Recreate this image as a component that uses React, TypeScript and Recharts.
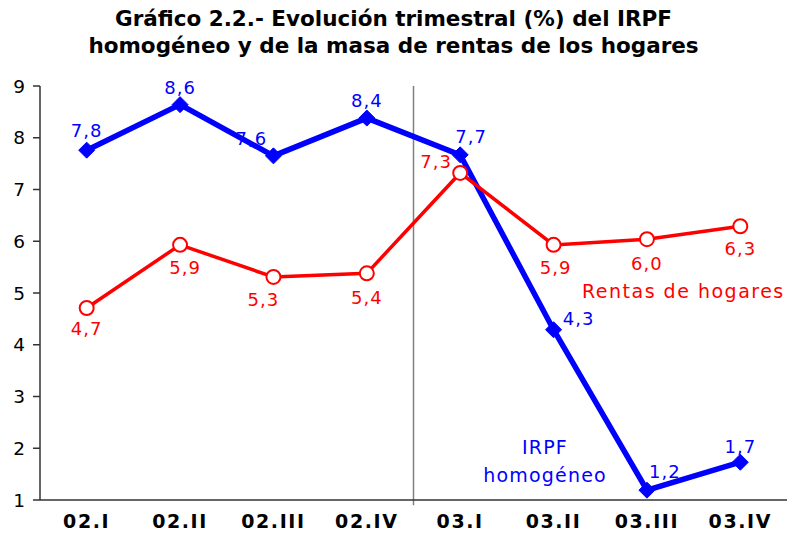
import React from 'react';
import { LineChart, Line, XAxis, YAxis, ReferenceLine, LabelList } from 'recharts';

const categories = ['02.I', '02.II', '02.III', '02.IV', '03.I', '03.II', '03.III', '03.IV'];
const irpf = [7.76, 8.64, 7.65, 8.38, 7.67, 4.29, 1.19, 1.73];
const rentas = [4.71, 5.93, 5.31, 5.38, 7.32, 5.93, 6.04, 6.29];
const irpfLabels = ['7,8', '8,6', '7,6', '8,4', '7,7', '4,3', '1,2', '1,7'];
const rentasLabels = ['4,7', '5,9', '5,3', '5,4', '7,3', '5,9', '6,0', '6,3'];
const yTicks = [1, 2, 3, 4, 5, 6, 7, 8, 9];

// label placement (styling), relative to each point
const irpfLabelOffset = [[0, -20], [0, -17], [-22, -17], [0, -18], [11, -18], [25, -11], [18, -19], [0, -16]];
const rentasLabelOffset = [[0, 20], [5, 23], [-10, 23], [0, 24], [-24, -11], [2, 23], [0, 24], [0, 22]];

const data = categories.map((c, i) => ({ x: i, irpf: irpf[i], rentas: rentas[i] }));

const FONT = '"DejaVu Sans", Verdana, sans-serif';
const BLUE = '#0000ff';
const RED = '#ff0000';

const Diamond = (props: any) => {
  const { cx, cy } = props;
  if (cx == null || cy == null) return null;
  const r = 8;
  return (
    <polygon
      points={`${cx},${cy - r} ${cx + r},${cy} ${cx},${cy + r} ${cx - r},${cy}`}
      fill={BLUE}
      stroke={BLUE}
      strokeWidth={1}
    />
  );
};

const makeLabel = (labels: string[], offsets: number[][], color: string) => (props: any) => {
  const { x, y, index } = props;
  const [dx, dy] = offsets[index];
  return (
    <text
      x={x + dx}
      y={y + dy}
      textAnchor="middle"
      dominantBaseline="central"
      fill={color}
      fontFamily={FONT}
      fontSize={18}
      letterSpacing={1}
    >
      {labels[index]}
    </text>
  );
};

export default function App() {
  return (
    <div style={{ position: 'absolute', left: 0, top: 0, width: 787, height: 537, background: '#fff', overflow: 'hidden' }}>
      <div
        style={{
          position: 'absolute',
          left: 0,
          top: 5,
          width: 787,
          textAlign: 'center',
          fontFamily: FONT,
          fontWeight: 'bold',
          fontSize: 21.5,
          lineHeight: '27px',
          color: '#000',
          whiteSpace: 'nowrap',
        }}
      >
        Gráfico 2.2.- Evolución trimestral (%) del IRPF
        <br />
        homogéneo y de la masa de rentas de los hogares
      </div>
      <LineChart width={787} height={537} data={data} margin={{ top: 86, right: 0, left: 0, bottom: 0 }}>
        <XAxis
          type="number"
          dataKey="x"
          domain={[-0.5, 7.5]}
          ticks={[0, 1, 2, 3, 4, 5, 6, 7]}
          tickFormatter={(v: number) => categories[v]}
          tickLine={false}
          axisLine={{ stroke: '#333', strokeWidth: 1.5 }}
          tick={{ fill: '#000', fontFamily: FONT, fontWeight: 'bold', fontSize: 19, letterSpacing: 1.6 }}
          tickMargin={9}
          height={37}
          interval={0}
        />
        <YAxis
          type="number"
          domain={[1, 9]}
          ticks={yTicks}
          width={40}
          tickSize={7}
          tickMargin={8}
          axisLine={{ stroke: '#333', strokeWidth: 1.5 }}
          tickLine={{ stroke: '#333', strokeWidth: 1.5 }}
          tick={{ fill: '#000', fontFamily: FONT, fontSize: 18.5 }}
          interval={0}
          allowDataOverflow
        />
        <ReferenceLine
          segment={[{ x: 3.5, y: 0.9 }, { x: 3.5, y: 9 }]}
          stroke="#808080"
          strokeWidth={1.5}
          ifOverflow="visible"
        />
        <Line
          dataKey="irpf"
          stroke={BLUE}
          strokeWidth={5.5}
          dot={<Diamond />}
          isAnimationActive={false}
        >
          <LabelList dataKey="irpf" content={makeLabel(irpfLabels, irpfLabelOffset, BLUE)} />
        </Line>
        <Line
          dataKey="rentas"
          stroke={RED}
          strokeWidth={3.5}
          dot={{ r: 7, fill: '#fff', stroke: RED, strokeWidth: 2 }}
          isAnimationActive={false}
        >
          <LabelList dataKey="rentas" content={makeLabel(rentasLabels, rentasLabelOffset, RED)} />
        </Line>
      </LineChart>
      <div style={{ position: 'absolute', left: 582, top: 280, fontFamily: FONT, fontSize: 19, color: RED, letterSpacing: 1.5, whiteSpace: 'nowrap' }}>
        Rentas de hogares
      </div>
      <div
        style={{
          position: 'absolute',
          left: 470,
          width: 150,
          top: 433,
          textAlign: 'center',
          fontFamily: FONT,
          fontSize: 19,
          lineHeight: '28px',
          color: BLUE,
          letterSpacing: 1.2,
        }}
      >
        IRPF
        <br />
        homogéneo
      </div>
    </div>
  );
}
